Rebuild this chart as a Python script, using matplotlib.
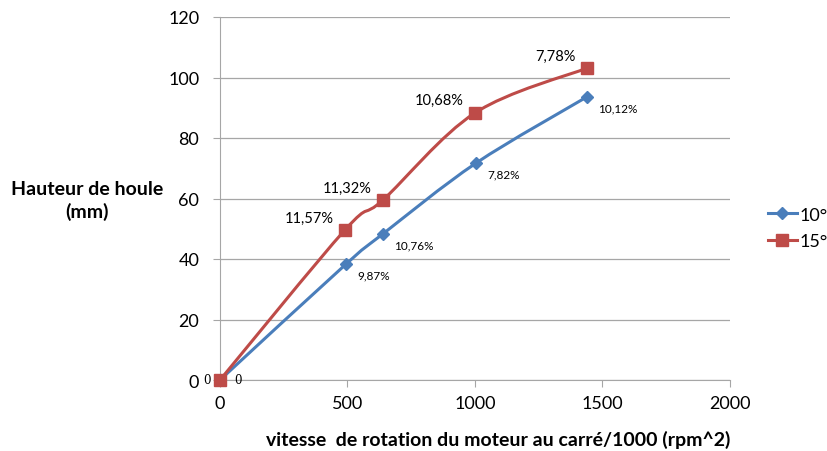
import numpy as np
import matplotlib.pyplot as plt
from matplotlib.path import Path
from matplotlib.patches import PathPatch
from matplotlib.lines import Line2D

plt.rcParams['font.family'] = ['Lato', 'DejaVu Sans']

# Data
speed_10 = [0, 494, 639, 1004, 1439]
height_10 = [0, 38.3, 48.3, 71.7, 93.6]
labels_10 = ["0", "9,87%", "10,76%", "7,82%", "10,12%"]

speed_15 = [0, 490, 639, 1000, 1439]
height_15 = [0, 49.6, 59.5, 88.3, 103.1]
labels_15 = ["0", "11,57%", "11,32%", "10,68%", "7,78%"]

series_names = ["10°", "15°"]
blue = "#4a7ebb"
red = "#be4b48"

fig = plt.figure(figsize=(8.28, 4.52), dpi=100)
ax = fig.add_axes([220 / 828, 1 - 381 / 452, 510 / 828, 363 / 452])


def smooth_path(ax, xs, ys, color):
    """Cubic Bezier smoothing through the points (in display space)."""
    pts = ax.transData.transform(np.column_stack([xs, ys]))
    n = len(pts)
    verts = [pts[0]]
    codes = [Path.MOVETO]
    t = 1 / 6
    for i in range(n - 1):
        p0 = pts[max(i - 1, 0)]
        p1 = pts[i]
        p2 = pts[i + 1]
        p3 = pts[min(i + 2, n - 1)]
        c1 = p1 + (p2 - p0) * t
        c2 = p2 - (p3 - p1) * t
        verts += [c1, c2, p2]
        codes += [Path.CURVE4] * 3
    path = Path(verts, codes)
    patch = PathPatch(path, facecolor="none", edgecolor=color, lw=2.2,
                      transform=None, zorder=3)
    ax.add_artist(patch)


ax.set_xlim(0, 2000)
ax.set_ylim(0, 120)
ax.set_xticks(np.arange(0, 2001, 500))
ax.set_yticks(np.arange(0, 121, 20))
ax.yaxis.grid(True, color="#a6a6a6", lw=0.9)
ax.set_axisbelow(True)
for s in ["top", "right"]:
    ax.spines[s].set_visible(False)
ax.spines["left"].set_color("#a6a6a6")
ax.spines["bottom"].set_color("#a6a6a6")
ax.tick_params(axis="y", length=5, direction="out", color="#a6a6a6",
               labelsize=13, pad=10)
ax.tick_params(axis="x", length=5, direction="out", color="#a6a6a6",
               labelsize=13, pad=6)

fig.canvas.draw()
smooth_path(ax, speed_10, height_10, blue)
smooth_path(ax, speed_15, height_15, red)
ax.plot(speed_10, height_10, ls="none", marker="D", ms=6.5, color=blue,
        zorder=4, clip_on=False)
ax.plot(speed_15, height_15, ls="none", marker="s", ms=8, color=red,
        zorder=4, clip_on=False)

# value labels
for i, (x, y, t) in enumerate(zip(speed_10, height_10, labels_10)):
    if i == 0:
        ax.annotate(t, (x, y), xytext=(10, 0), textcoords="offset points",
                    fontsize=8.5, family="DejaVu Serif", va="center", ha="left")
    else:
        ax.annotate(t, (x, y), xytext=(8, -4), textcoords="offset points",
                    fontsize=8.5, va="top", ha="left")
for i, (x, y, t) in enumerate(zip(speed_15, height_15, labels_15)):
    if i == 0:
        ax.annotate(t, (x, y), xytext=(-7, 0), textcoords="offset points",
                    fontsize=8.5, family="DejaVu Serif", va="center", ha="right")
    else:
        ax.annotate(t, (x, y), xytext=(-8, 4), textcoords="offset points",
                    fontsize=10.5, va="bottom", ha="right")

fig.text(87 / 828, 1 - 201 / 452, "Hauteur de houle\n(mm)", fontsize=14,
         fontweight="bold", ha="center", va="center", linespacing=1.35)
fig.text(498 / 828, 1 - 440 / 452,
         "vitesse  de rotation du moteur au carré/1000 (rpm^2)",
         fontsize=14, fontweight="bold", ha="center", va="center")

handles = [Line2D([], [], color=blue, lw=2.2, marker="D", ms=6.5),
           Line2D([], [], color=red, lw=2.2, marker="s", ms=8)]
fig.legend(handles, series_names, loc="center left",
           bbox_to_anchor=(768 / 828, 1 - 229 / 452), frameon=False,
           fontsize=13, handlelength=1.6, handletextpad=0.15,
           labelspacing=0.6, borderpad=0, borderaxespad=0)

fig.savefig("out.png", dpi=100)
